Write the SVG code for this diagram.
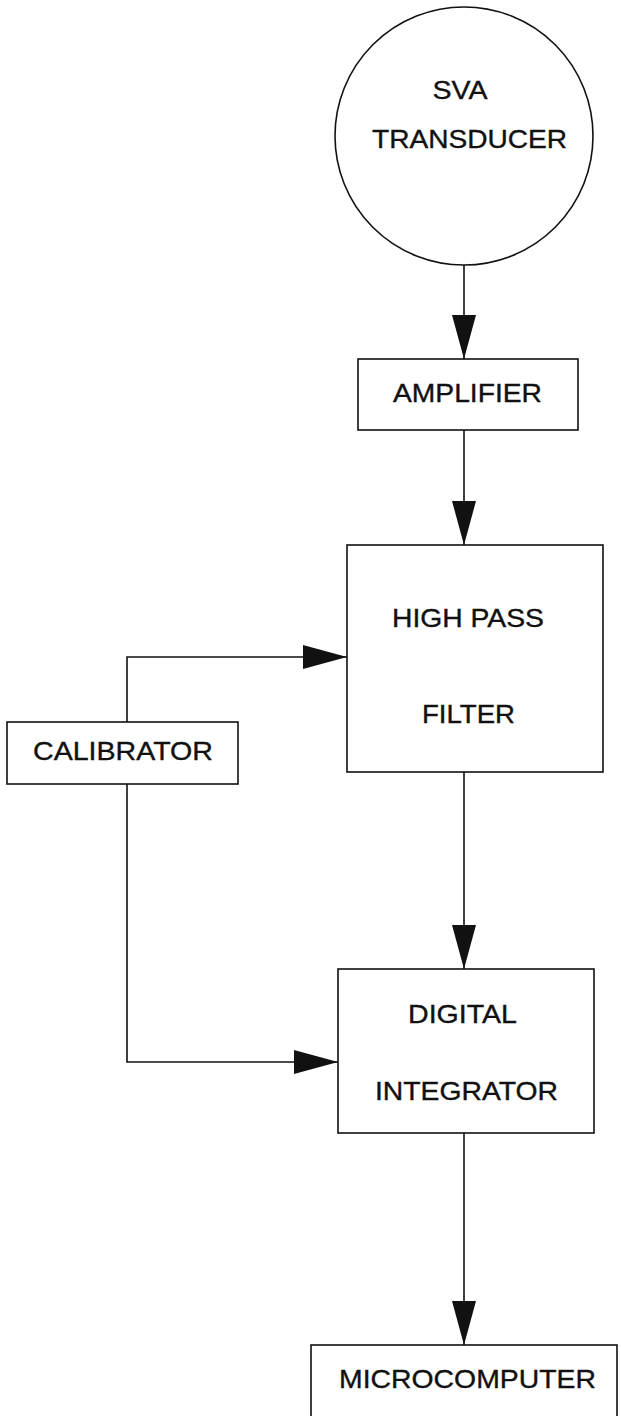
<svg xmlns="http://www.w3.org/2000/svg" width="621" height="1416" viewBox="0 0 621 1416">
<style>
.box{fill:#fff;stroke:#111;stroke-width:1.6}
.lbl{font-family:"Liberation Sans",Arial,sans-serif;font-size:25px;fill:#111;stroke:#111;stroke-width:0.35;text-anchor:middle}
.con{fill:none;stroke:#111;stroke-width:1.6}
</style>
<defs>
<marker id="arr" markerUnits="userSpaceOnUse" markerWidth="46" markerHeight="26" refX="44" refY="12" orient="auto">
<path d="M0,0 L44,12 L0,24 z" fill="#111"/>
</marker>
</defs>
<rect width="621" height="1416" fill="#fff"/>
<g id="connectors">
<path class="con" d="M464,264 L464,359" marker-end="url(#arr)"/>
<path class="con" d="M464,430 L464,545" marker-end="url(#arr)"/>
<path class="con" d="M127,722 L127,657 L347,657" marker-end="url(#arr)"/>
<path class="con" d="M464,772 L464,969" marker-end="url(#arr)"/>
<path class="con" d="M127,784 L127,1062 L338,1062" marker-end="url(#arr)"/>
<path class="con" d="M464,1133 L464,1345" marker-end="url(#arr)"/>
</g>
<g id="transducer">
<circle class="box" cx="464" cy="136" r="129"/>
<text class="lbl" x="460" y="99" textLength="55" lengthAdjust="spacingAndGlyphs">SVA</text>
<text class="lbl" x="469.5" y="148" textLength="195" lengthAdjust="spacingAndGlyphs">TRANSDUCER</text>
</g>
<g id="amplifier">
<rect class="box" x="358" y="359" width="220" height="71"/>
<text class="lbl" x="467.5" y="402" textLength="149" lengthAdjust="spacingAndGlyphs">AMPLIFIER</text>
</g>
<g id="highpass">
<rect class="box" x="347" y="545" width="256" height="227"/>
<text class="lbl" x="468" y="627" textLength="152" lengthAdjust="spacingAndGlyphs">HIGH PASS</text>
<text class="lbl" x="468.5" y="723" textLength="93" lengthAdjust="spacingAndGlyphs">FILTER</text>
</g>
<g id="calibrator">
<rect class="box" x="7" y="722" width="231" height="62"/>
<text class="lbl" x="123" y="760" textLength="180" lengthAdjust="spacingAndGlyphs">CALIBRATOR</text>
</g>
<g id="integrator">
<rect class="box" x="338" y="969" width="256" height="164"/>
<text class="lbl" x="462.5" y="1023" textLength="109" lengthAdjust="spacingAndGlyphs">DIGITAL</text>
<text class="lbl" x="466.5" y="1100" textLength="183" lengthAdjust="spacingAndGlyphs">INTEGRATOR</text>
</g>
<g id="microcomputer">
<rect class="box" x="311" y="1345" width="306" height="90"/>
<text class="lbl" x="467.5" y="1388" textLength="257" lengthAdjust="spacingAndGlyphs">MICROCOMPUTER</text>
</g>
</svg>
